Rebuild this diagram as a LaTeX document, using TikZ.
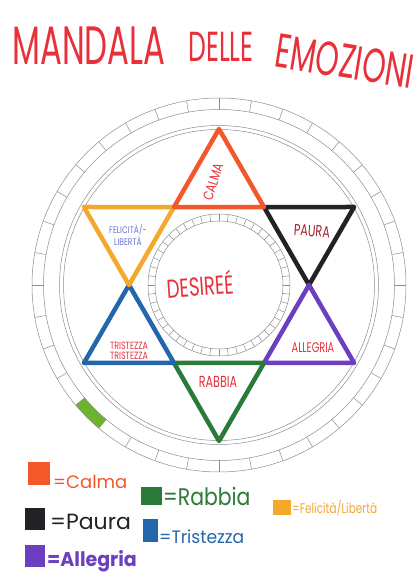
\documentclass[tikz,border=0pt]{standalone}
\usepackage{fontspec}
\setmainfont{Poppins}
\usetikzlibrary{calc}

\definecolor{ringgray}{HTML}{8C8C8C}
\definecolor{penred}{HTML}{E8303A}
\definecolor{calma}{HTML}{F2582A}
\definecolor{paura}{HTML}{222226}
\definecolor{allegria}{HTML}{6B3FC0}
\definecolor{rabbia}{HTML}{2C7A38}
\definecolor{tristezza}{HTML}{2466AC}
\definecolor{felicita}{HTML}{F4A82C}
\definecolor{leaf}{HTML}{6CB42E}
\definecolor{lilac}{HTML}{6C6FD4}
\definecolor{darkred}{HTML}{A3202C}

\begin{document}
\begin{tikzpicture}[
  x=1pt, y=1pt,
  ring/.style   = {draw=ringgray, line width=0.5pt},
  tip/.style    = {line width=4.5pt, line join=round},
  lbl/.style    = {inner sep=0pt, text=penred},
  swatch/.style = {inner sep=0pt},
  key/.style    = {inner sep=0pt, anchor=west},
]
  \useasboundingbox (0,0) rectangle (417,578);
  \coordinate (c) at (219,293);

  % title
  \node[lbl, font=\fontsize{54}{54}\selectfont] (ttla) at (89,532)
    {\scalebox{0.6}[1]{MANDALA}};
  \node[lbl, font=\fontsize{42}{42}\selectfont] (ttlb) at (221,531)
    {\scalebox{0.6}[1]{DELLE}};
  \node[lbl, font=\fontsize{48}{48}\selectfont, rotate=-9] (ttlc) at (345,517)
    {\scalebox{0.62}[1]{EMOZIONI}};

  % outer ring with its cells
  \fill[leaf] ($(c)+(220:175.5)$) arc[start angle=220, end angle=230, radius=175.5]
    -- ($(c)+(230:187)$) arc[start angle=230, end angle=220, radius=187] -- cycle;
  \draw[ring] (c) circle[radius=187];
  \draw[ring] (c) circle[radius=175.5];
  \draw[ring] (c) circle[radius=159.5];
  \draw[ring] (c) circle[radius=155.5];
  \foreach \a in {0,10,...,350}
    \draw[ring] ($(c)+(\a:175.5)$) -- ($(c)+(\a:187)$);

  % inner ring
  \draw[ring] (c) circle[radius=71];
  \draw[ring] (c) circle[radius=64];
  \foreach \a in {0,7.5,...,352.5}
    \draw[ring] ($(c)+(\a:64)$) -- ($(c)+(\a:71)$);

  % the six points of the star
  \foreach \i in {0,...,5} {
    \coordinate (h\i) at ($(c)+(\i*60:90)$);
    \coordinate (t\i) at ($(c)+(\i*60+30:156)$);
  }
  \draw[tip, draw=paura]     (h0) -- (t0) -- (h1) -- cycle;
  \draw[tip, draw=allegria]  (h5) -- (t5) -- (h0) -- cycle;
  \draw[tip, draw=rabbia]    (h4) -- (t4) -- (h5) -- cycle;
  \draw[tip, draw=tristezza] (h3) -- (t3) -- (h4) -- cycle;
  \draw[tip, draw=felicita]  (h2) -- (t2) -- (h3) -- cycle;
  \draw[tip, draw=calma]     (h1) -- (t1) -- (h2) -- cycle;

  \node[lbl, font=\fontsize{14}{14}\selectfont, rotate=72] (calmatxt) at (213,396)
    {\scalebox{0.8}[1]{CALMA}};
  \node[lbl, text=darkred, font=\fontsize{16}{16}\selectfont, rotate=-4] (pauratxt) at (312,347)
    {\scalebox{0.7}[1]{PAURA}};
  \node[lbl, text=lilac, font=\fontsize{9.5}{10}\selectfont, align=center] (felicitatxt) at (128,343)
    {\scalebox{0.8}[1]{FELICITÀ/-}\\\scalebox{0.8}[1]{LIBERTÀ}};
  \node[lbl, font=\fontsize{26}{26}\selectfont, rotate=4] (nametxt) at (200,294)
    {\scalebox{0.7}[1]{DESIREÉ}};
  \node[lbl, font=\fontsize{14}{14}\selectfont] (allegriatxt) at (313,230)
    {\scalebox{0.7}[1]{ALLEGRIA}};
  \node[lbl, font=\fontsize{16}{16}\selectfont] (rabbiatxt) at (218,196)
    {\scalebox{0.7}[1]{RABBIA}};
  \node[lbl, font=\fontsize{10.5}{10.5}\selectfont, align=center] (tristezzatxt) at (129,227)
    {\scalebox{0.75}[1]{TRISTEZZA}\\\scalebox{0.75}[1]{TRISTEZZA}};

  % legend
  \node[swatch, fill=calma,     minimum width=22, minimum height=23] (kcalma) at (39,104) {};
  \node[swatch, fill=rabbia,    minimum width=21, minimum height=18] (krabbia) at (151,82) {};
  \node[swatch, fill=felicita,  minimum width=18, minimum height=15] (kfelicita) at (282,70) {};
  \node[swatch, fill=paura,     minimum width=20, minimum height=22] (kpaura) at (35,59) {};
  \node[swatch, fill=tristezza, minimum width=15, minimum height=23] (ktristezza) at (150,47) {};
  \node[swatch, fill=allegria,  minimum width=20, minimum height=22] (kallegria) at (35,22) {};

  \node[key, text=calma, font=\fontsize{18}{18}\selectfont] (tcalma) at (53,96) {=Calma};
  \node[key, text=rabbia, font=\fontsize{24}{24}\selectfont] (trabbia) at (163,82)
    {\scalebox{0.85}[1]{=Rabbia}};
  \node[key, text=felicita, font=\fontsize{14}{14}\selectfont] (tfelicita) at (292,70)
    {\scalebox{0.75}[1]{=Felicità/Libertà}};
  \node[key, text=paura, font=\fontsize{22}{22}\selectfont] (tpaura) at (50,56) {=Paura};
  \node[key, text=tristezza, font=\fontsize{18}{18}\selectfont] (ttristezza) at (159,41)
    {\scalebox{0.95}[1]{=Tristezza}};
  \node[key, text=allegria, font=\bfseries\fontsize{20}{20}\selectfont] (tallegria) at (47,17)
    {\scalebox{0.95}[1]{=Allegria}};
\end{tikzpicture}
\end{document}
